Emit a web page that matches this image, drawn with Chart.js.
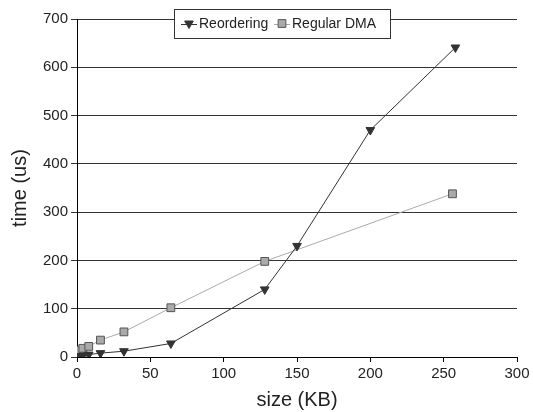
<!DOCTYPE html>
<html>
<head>
<meta charset="utf-8">
<script src="https://cdn.jsdelivr.net/npm/chart.js@4/dist/chart.umd.min.js"></script>
<style>
  html, body { margin: 0; padding: 0; background: #fff; }
  #wrap { width: 533px; height: 412px; }
</style>
</head>
<body>
<div id="wrap"><canvas id="chart" width="533" height="412"></canvas></div>
<script>
// data
const reorderSize = [0.5, 1, 2, 4, 8, 16, 32, 64, 128, 150, 200, 258];
const reorderTime = [1, 1.5, 2, 3, 5, 8, 12, 28, 140, 230, 470, 641];
const dmaSize = [0.5, 1, 2, 4, 8, 16, 32, 64, 128, 256];
const dmaTime = [11, 12, 14, 18, 22, 35, 52, 102, 198, 338];
const seriesNames = ["Reordering", "Regular DMA"];
const xTicks = [0, 50, 100, 150, 200, 250, 300];
const yTicks = [0, 100, 200, 300, 400, 500, 600, 700];

const font = "'Liberation Sans', Arial, sans-serif";

function toPoints(xs, ys) {
    return xs.map((x, i) => ({ x: x, y: ys[i] }));
}

// legend box drawn over the top of the plot, like the original
const boxLegend = {
    id: 'boxLegend',
    afterDraw(chart) {
        const ctx = chart.ctx;
        const ds = chart.data.datasets;
        const left = 174, top = 9, w = 216, h = 29;
        ctx.save();
        ctx.fillStyle = '#fff';
        ctx.fillRect(left, top, w, h);
        ctx.strokeStyle = '#333';
        ctx.lineWidth = 1;
        ctx.strokeRect(left + 0.5, top + 0.5, w, h);
        ctx.font = '14px ' + font;
        ctx.textBaseline = 'middle';
        const cy = top + h / 2 + 1;
        [181, 274].forEach((x, i) => {
            ctx.strokeStyle = ds[i].borderColor;
            ctx.lineWidth = 1;
            ctx.beginPath();
            ctx.moveTo(x, cy);
            ctx.lineTo(x + 16, cy);
            ctx.stroke();
            ctx.fillStyle = ds[i].pointBackgroundColor;
            ctx.strokeStyle = ds[i].pointBorderColor;
            Chart.helpers.drawPoint(ctx, {
                pointStyle: ds[i].pointStyle,
                radius: ds[i].pointRadius,
                rotation: ds[i].rotation || 0,
                borderWidth: 1
            }, x + 8, cy - 1);
            ctx.fillStyle = '#222';
            ctx.fillText(ds[i].label, x + 18, cy);
        });
        ctx.restore();
    }
};

new Chart(document.getElementById('chart').getContext('2d'), {
    type: 'scatter',
    data: {
        datasets: [{
            label: seriesNames[0],
            data: toPoints(reorderSize, reorderTime),
            showLine: true,
            borderColor: '#333',
            borderWidth: 1,
            backgroundColor: '#333',
            pointStyle: 'triangle',
            rotation: 180,
            pointRadius: 5,
            pointBorderColor: '#333',
            pointBackgroundColor: '#333'
        }, {
            label: seriesNames[1],
            data: toPoints(dmaSize, dmaTime),
            showLine: true,
            borderColor: '#aaa',
            borderWidth: 1,
            backgroundColor: '#aaa',
            pointStyle: 'rect',
            pointRadius: 5.5,
            pointBorderColor: '#555',
            pointBackgroundColor: '#aaa'
        }]
    },
    options: {
        responsive: false,
        animation: false,
        layout: { padding: { top: 19, right: 16, left: 0, bottom: 0 } },
        plugins: {
            legend: { display: false },
            tooltip: { enabled: false }
        },
        scales: {
            x: {
                type: 'linear',
                min: 0, max: 300,
                afterBuildTicks: axis => { axis.ticks = xTicks.map(v => ({ value: v })); },
                afterFit: axis => { axis.height = 55; },
                border: { color: '#000', width: 1 },
                grid: { drawOnChartArea: false, drawTicks: true, tickLength: 5, tickColor: '#000' },
                ticks: { color: '#222', font: { family: font, size: 15 }, padding: 3, maxRotation: 0 },
                title: { display: true, text: 'size (KB)', color: '#222', font: { family: font, size: 20 }, padding: { top: 2, bottom: 0 } }
            },
            y: {
                min: 0, max: 700,
                afterBuildTicks: axis => { axis.ticks = yTicks.map(v => ({ value: v })); },
                afterFit: axis => { axis.width = 77; },
                border: { color: '#000', width: 1 },
                grid: { color: '#333', lineWidth: 1, tickLength: 6, tickColor: '#333' },
                ticks: { color: '#222', font: { family: font, size: 15 }, padding: 3 },
                title: { display: true, text: 'time (us)', color: '#222', font: { family: font, size: 20 }, padding: { top: 8, bottom: 4 } }
            }
        }
    },
    plugins: [boxLegend]
});
</script>
</body>
</html>
